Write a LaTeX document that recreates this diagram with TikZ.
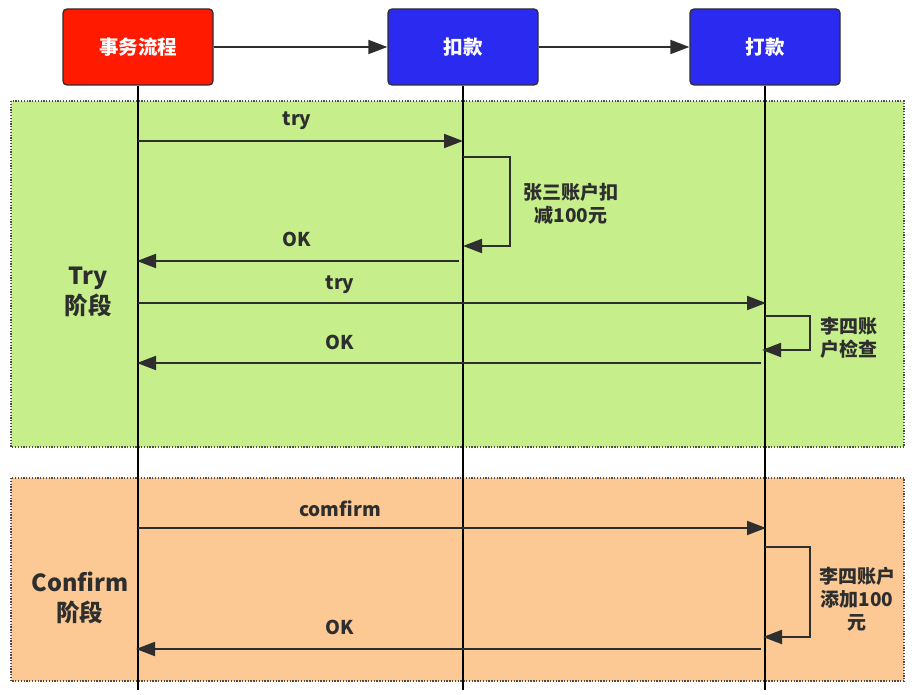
\documentclass[tikz,border=0pt]{standalone}
\usepackage{fontspec}
\setmainfont{Noto Sans CJK SC}
\usetikzlibrary{arrows.meta}
\definecolor{tred}{HTML}{FF1A00}
\definecolor{tblue}{HTML}{2A2AF0}
\definecolor{tgreen}{HTML}{C6EF8C}
\definecolor{torange}{HTML}{FCC995}
\definecolor{tline}{HTML}{2E2E2E}
\begin{document}
\begin{tikzpicture}[x=1pt,y=-1pt,
  head/.style={draw=tline,line width=1.3pt,rounded corners=4pt,minimum width=150pt,minimum height=76pt,text=white,font=\bfseries\fontsize{19.5}{22}\selectfont},
  region/.style={draw=tline!85,line width=1.7pt,dash pattern=on 1.3pt off 1.5pt},
  life/.style={draw=black,line width=1.3pt},
  msg/.style={draw=tline,line width=2pt,-{Triangle[length=19pt,width=14pt]}},
  lbl/.style={text=tline,font=\bfseries\fontsize{19}{22}\selectfont,align=center},
  note/.style={text=tline,font=\bfseries\fontsize{19}{23}\selectfont,align=center},
  phase/.style={text=tline,font=\bfseries\fontsize{23.5}{30}\selectfont,align=center}]
\useasboundingbox (0,0) rectangle (914,695);
% regions
\path[region,fill=tgreen] (11,101) rectangle (904,447);
\path[region,fill=torange] (11,478) rectangle (904,681);
% heads
\node[head,fill=tred] (A) at (138,47) {事务流程};
\node[head,fill=tblue] (B) at (463,47) {扣款};
\node[head,fill=tblue] (C) at (765,47) {打款};
% lifeline ends
\coordinate (Ae) at (138,690);
\coordinate (Be) at (463,690);
\coordinate (Ce) at (765,690);
\draw[life] (A.south) -- (Ae);
\draw[life] (B.south) -- (Be);
\draw[life] (C.south) -- (Ce);
\draw[msg] (A) -- (B);
\draw[msg] (B) -- (C);
% points on lifelines
\coordinate (a1) at (138,141); \coordinate (b1) at (463,141);
\coordinate (b2s) at (463,157); \coordinate (b2e) at (463,246);
\coordinate (b3) at (459,261); \coordinate (a3) at (137,261);
\coordinate (a4) at (138,303); \coordinate (c4) at (766,303);
\coordinate (c5s) at (765,316); \coordinate (c5e) at (762,350);
\coordinate (c6) at (761,363); \coordinate (a6) at (137,363);
\coordinate (a7) at (138,528); \coordinate (c7) at (766,528);
\coordinate (c8s) at (765,547); \coordinate (c8e) at (763,637);
\coordinate (c9) at (761,649); \coordinate (a9) at (136,649);
% Try phase
\draw[msg] (a1) -- (b1);
\node[lbl] (t1) at (297,121) {try};
\draw[msg] (b2s) -- ++(47,0) |- (b2e);
\node[note] (n1) at (571,204) {张三账户扣\\减100元};
\draw[msg] (b3) -- (a3);
\node[lbl] (t2) at (297,239) {OK};
\draw[msg] (a4) -- (c4);
\node[lbl] (t3) at (340,285) {try};
\draw[msg] (c5s) -- ++(45,0) |- (c5e);
\node[note] (n2) at (849,338) {李四账\\户检查};
\draw[msg] (c6) -- (a6);
\node[lbl] (t4) at (340,342) {OK};
\node[phase] (p1) at (88,292) {Try\\阶段};
% Confirm phase
\draw[msg] (a7) -- (c7);
\node[lbl] (t5) at (340,509) {comfirm};
\draw[msg] (c8s) -- ++(45,0) |- (c8e);
\node[note] (n3) at (857,599) {李四账户\\添加100\\元};
\draw[msg] (c9) -- (a9);
\node[lbl] (t6) at (340,627) {OK};
\node[phase] (p2) at (80,598) {Confirm\\阶段};
\end{tikzpicture}
\end{document}
